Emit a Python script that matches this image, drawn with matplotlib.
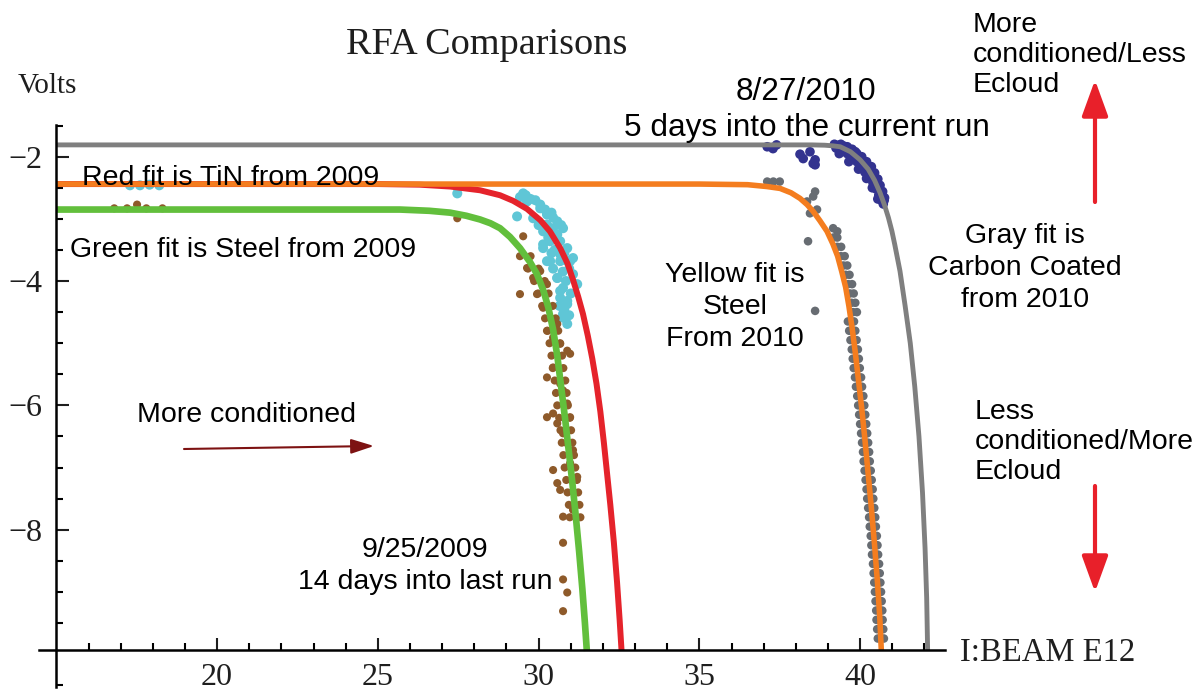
"""
RFA comparison chart: fit curves and measured points, volts vs I:BEAM E12.
"""
import matplotlib
matplotlib.use("Agg")
import matplotlib.pyplot as plt
from matplotlib.ticker import FixedLocator

W, H = 1201, 696

# ---- fit curves ----
gray_fit_x = [15.0, 30.0, 37.0, 38.5, 38.9, 39.15, 39.38, 39.7, 40.0, 40.25, 40.45,
              40.62, 40.76, 40.88, 40.99, 41.08, 41.16, 41.24, 41.4, 41.56, 41.7,
              41.83, 41.94, 42.02, 42.07, 42.1]
gray_fit_y = [-1.81, -1.81, -1.81, -1.81, -1.815, -1.825, -1.84, -1.92, -2.05, -2.2,
              -2.38, -2.58, -2.78, -2.98, -3.2, -3.42, -3.63, -3.84, -4.4, -5.0, -5.7,
              -6.5, -7.4, -8.3, -9.1, -9.95]

orange_fit_x = [15.0, 35.0, 36.5, 37.1, 37.51, 37.85, 38.13, 38.35, 38.54, 38.75, 38.97,
                39.15, 39.3, 39.43, 39.55, 39.65, 39.75, 39.85, 39.95, 40.05, 40.15,
                40.25, 40.35, 40.45, 40.54, 40.61, 40.66]
orange_fit_y = [-2.44, -2.44, -2.45, -2.48, -2.51, -2.58, -2.67, -2.77, -2.88, -3.03,
                -3.2, -3.4, -3.6, -3.85, -4.1, -4.4, -4.75, -5.15, -5.6, -6.05, -6.55,
                -7.1, -7.65, -8.25, -8.85, -9.4, -9.95]

red_fit_x = [15.0, 25.0, 26.3, 27.25, 28.18, 28.8, 29.21, 29.64, 30.05, 30.35, 30.67,
             30.9, 31.07, 31.23, 31.38, 31.53, 31.67, 31.8, 31.92, 32.03, 32.13,
             32.23, 32.34, 32.44, 32.52, 32.58]
red_fit_y = [-2.44, -2.44, -2.45, -2.48, -2.54, -2.62, -2.71, -2.84, -3.02, -3.2, -3.47,
             -3.72, -3.98, -4.25, -4.53, -4.88, -5.25, -5.65, -6.1, -6.6, -7.1,
             -7.6, -8.2, -8.85, -9.45, -9.95]

green_fit_x = [15.0, 25.69, 26.6, 27.25, 27.75, 28.18, 28.5, 28.8, 29.11, 29.42, 29.74,
               29.95, 30.14, 30.3, 30.45, 30.58, 30.7, 30.82, 30.93, 31.04, 31.15,
               31.26, 31.36, 31.44, 31.5]
green_fit_y = [-2.85, -2.85, -2.87, -2.9, -2.95, -3.01, -3.07, -3.15, -3.29, -3.47, -3.7,
               -3.89, -4.14, -4.42, -4.78, -5.2, -5.7, -6.2, -6.7, -7.2, -7.75,
               -8.35, -8.95, -9.5, -9.95]

# ---- measured points ----
# TiN 2009 (cyan)
cyan_x = [17.29, 17.6, 17.9, 18.2, 27.47, 29.52, 29.64, 30.05, 30.26, 30.58, 30.76,
          29.83, 30.14, 30.36, 30.67, 30.89, 30.14, 30.26, 30.67, 30.98, 31.07, 31.2,
          30.58, 30.67, 30.89, 30.76, 30.89, 29.33, 30.05, 30.26, 30.14, 30.58, 30.67,
          30.36, 30.89, 31.07, 30.58, 30.76, 30.67, 30.89, 30.76, 29.42, 29.9, 30.4,
          30.45, 30.0, 29.6, 29.75, 30.2, 30.45, 30.7, 30.3, 30.5, 30.8, 30.4, 30.95,
          30.75, 30.45, 30.85, 31.0, 30.8, 30.95, 30.65]
cyan_y = [-2.46, -2.46, -2.45, -2.46, -2.59, -2.59, -2.72, -2.83, -2.93, -3.04, -3.15,
          -2.99, -3.2, -3.36, -3.36, -3.47, -3.47, -3.68, -3.68, -3.68, -3.89, -4.05,
          -3.95, -4.16, -4.32, -4.53, -4.69, -2.96, -2.77, -3.09, -3.41, -3.25, -3.57,
          -3.68, -3.68, -3.63, -3.95, -4.11, -4.27, -4.37, -4.59, -2.65, -2.7, -2.9,
          -3.15, -3.1, -2.62, -2.68, -2.85, -2.98, -3.1, -3.3, -3.5, -3.55, -3.55, -3.8,
          -3.85, -3.8, -4.0, -4.2, -4.45, -4.55, -4.4]

# Steel 2009 (brown): scattered points plus the dense band either side of the fit
brown_x = [16.8, 17.2, 17.51, 17.8, 18.3, 27.47, 29.52, 29.42, 29.64, 29.83, 30.05,
           30.26, 29.95, 30.14, 30.36, 30.58, 30.26, 30.45, 30.67, 30.89, 30.98, 30.26,
           30.45, 30.67, 30.76, 30.26, 30.45, 30.58, 30.89, 30.98, 30.76, 30.89, 31.07,
           30.98, 31.2, 30.45, 30.58, 30.67, 31.07, 30.76, 30.76, 30.76, 30.89, 30.76]
brown_y = [-2.83, -2.83, -2.77, -2.83, -2.83, -2.99, -3.28, -4.21, -3.79, -3.95, -3.84,
           -4.05, -4.21, -4.43, -4.59, -4.69, -4.8, -4.91, -5.01, -5.12, -5.17, -5.55,
           -5.39, -5.65, -5.76, -6.19, -6.13, -6.29, -5.97, -6.19, -6.45, -6.61, -6.72,
           -6.93, -7.15, -7.04, -7.25, -7.36, -7.68, -7.79, -8.21, -8.8, -9.01, -9.31]
brown_band_y = [-3.6, -3.8, -4.0, -4.2, -4.4, -4.6, -4.8, -5.0, -5.2, -5.4, -5.6,
                -5.8, -6.0, -6.2, -6.4, -6.6, -6.8, -7.0, -7.2, -7.4, -7.6, -7.8]
brown_band_left = [29.42, 29.67, 29.86, 29.98, 30.11, 30.2, 30.28, 30.34, 30.4, 30.44,
                   30.5, 30.54, 30.58, 30.64, 30.68, 30.72, 30.77, 30.81, 30.86, 30.9,
                   30.94, 30.97]
brown_band_right = [29.75, 30.0, 30.19, 30.31, 30.44, 30.53, 30.61, 30.67, 30.73, 30.77,
                    30.83, 30.87, 30.91, 30.97, 31.01, 31.05, 31.1, 31.14, 31.19, 31.23,
                    31.27, 31.3]

# Steel 2010 (gray): stray points plus the band along the fit
graypt_x = [37.11, 37.3, 37.5, 38.54, 38.6, 38.66, 38.44, 39.16, 39.29, 38.38, 38.6,
            38.35]
graypt_y = [-2.4, -2.4, -2.4, -2.64, -2.56, -2.85, -2.91, -3.15, -3.2, -3.36, -4.48,
            -2.72]
gray_band_y = [-3.3, -3.45, -3.6, -3.75, -3.9, -4.05, -4.2, -4.35, -4.5, -4.65, -4.8,
               -4.95, -5.1, -5.25, -5.4, -5.55, -5.7, -5.85, -6.0, -6.15, -6.3, -6.45,
               -6.6, -6.75, -6.9, -7.05, -7.2, -7.35, -7.5, -7.65, -7.8, -7.95, -8.1,
               -8.25, -8.4, -8.55, -8.7, -8.85, -9.0, -9.15, -9.3, -9.45, -9.6, -9.75]
gray_band_left = [39.17, 39.29, 39.4, 39.48, 39.55, 39.63, 39.68, 39.73, 39.78, 39.62,
                  39.66, 39.7, 39.74, 39.77, 39.8, 39.84, 39.87, 39.91, 39.94, 39.97,
                  40.0, 40.03, 40.06, 40.09, 40.11, 40.14, 40.17, 40.2, 40.22, 40.25,
                  40.28, 40.3, 40.33, 40.35, 40.37, 40.4, 40.42, 40.44, 40.46, 40.48,
                  40.5, 40.51, 40.53, 40.55]
gray_band_right = [39.29, 39.41, 39.52, 39.6, 39.67, 39.75, 39.8, 39.85, 39.9, 39.81,
                   39.85, 39.89, 39.93, 39.96, 39.99, 40.03, 40.06, 40.1, 40.13, 40.16,
                   40.19, 40.22, 40.25, 40.28, 40.3, 40.33, 40.36, 40.39, 40.41, 40.44,
                   40.47, 40.49, 40.52, 40.54, 40.56, 40.59, 40.61, 40.63, 40.65, 40.67,
                   40.69, 40.7, 40.72, 40.74]

# Carbon coated 2010 (blue)
blue_x = [37.11, 37.29, 37.4, 38.13, 38.23, 38.54, 38.6, 38.44, 38.6,
          39.2, 39.25, 39.4, 39.45, 39.6, 39.6, 39.75, 39.75, 39.9, 39.9, 40.05, 40.05,
          40.2, 40.15, 40.35, 40.3, 40.45, 40.4, 40.55, 40.5, 40.62, 40.58, 40.7, 40.66,
          40.76, 40.72, 39.5, 39.85, 40.1, 40.3, 40.5, 40.65, 39.3, 39.5, 39.7, 39.85,
          40.0, 40.15, 40.25, 40.4, 40.45, 40.6, 40.68, 40.75, 39.35, 39.65, 39.95,
          40.2, 40.38, 40.55]
blue_y = [-1.84, -1.87, -1.81, -1.96, -2.03, -2.11, -2.13, -1.92, -2.05,
          -1.8, -1.86, -1.8, -1.88, -1.84, -1.95, -1.88, -2.0, -1.95, -2.08, -2.0, -2.15,
          -2.08, -2.25, -2.16, -2.33, -2.26, -2.42, -2.36, -2.52, -2.46, -2.62, -2.56, -2.7,
          -2.66, -2.76, -1.9, -2.02, -2.12, -2.25, -2.44, -2.6, -1.82, -1.83, -1.9, -1.92,
          -2.05, -2.12, -2.2, -2.3, -2.35, -2.5, -2.6, -2.7, -1.95, -2.08, -2.2,
          -2.35, -2.5, -2.68]

x_major = [20, 25, 30, 35, 40]
y_major = [-2, -4, -6, -8]

SANS = "Liberation Sans"
plt.rcParams["font.family"] = "Liberation Serif"


def fxy(px, py):
    """pixel position in the 1201x696 picture -> figure fraction"""
    return px / W, 1 - py / H


fig = plt.figure(figsize=(W / 100, H / 100), dpi=100)
ax = fig.add_axes([39 / W, 1 - 687 / H, 906 / W, 562 / H])
ax.set_xlim(14.46, 42.64)
ax.set_ylim(-10.53, -1.49)

# points first, fits on top
ax.scatter(graypt_x + gray_band_left + gray_band_right,
           graypt_y + gray_band_y + gray_band_y,
           s=38, color="#676c72", edgecolors="none", zorder=2)
ax.scatter(blue_x, blue_y, s=48, color="#33338f", edgecolors="none", zorder=2)
ax.scatter(cyan_x, cyan_y, s=52, color="#5fc6d6", edgecolors="none", zorder=2)
ax.scatter(brown_x + brown_band_left + brown_band_right,
           brown_y + brown_band_y + brown_band_y,
           s=34, color="#8e5a2a", edgecolors="none", zorder=2)

ax.plot(red_fit_x, red_fit_y, color="#e5232b", lw=4.3, zorder=3, solid_capstyle="butt")
ax.plot(orange_fit_x, orange_fit_y, color="#f47d1f", lw=4.0, zorder=4, solid_capstyle="butt")
ax.plot(green_fit_x, green_fit_y, color="#62bf3c", lw=4.8, zorder=3, solid_capstyle="butt")
ax.plot(gray_fit_x, gray_fit_y, color="#7f7f7f", lw=3.5, zorder=4, solid_capstyle="butt")

# Mathematica-style crossing axes
for side in ("top", "right"):
    ax.spines[side].set_visible(False)
ax.spines["left"].set_position(("data", 15.0))
ax.spines["bottom"].set_position(("data", -9.94))
for side in ("left", "bottom"):
    ax.spines[side].set_linewidth(1.8)
    ax.spines[side].set_zorder(5)

ax.xaxis.set_major_locator(FixedLocator(x_major))
ax.xaxis.set_minor_locator(FixedLocator([v for v in range(16, 43) if v % 5]))
ax.yaxis.set_major_locator(FixedLocator(y_major))
ax.yaxis.set_minor_locator(FixedLocator([-10.5, -9.5, -9, -8.5, -7.5, -7, -6.5, -5.5,
                                         -5, -4.5, -3.5, -3, -2.5, -1.5]))
ax.tick_params(axis="both", which="major", direction="in", length=9, width=1.5,
               labelsize=23, colors="#1e1e1e")
ax.tick_params(axis="both", which="minor", direction="in", length=5, width=1.5)
ax.tick_params(axis="x", which="major", pad=9)
ax.tick_params(axis="y", which="major", pad=10)

# axis titles
fig.text(*fxy(487, 45), "RFA Comparisons", ha="center", va="center", fontsize=27.5,
         color="#1e1e1e")
fig.text(*fxy(18, 86), "Volts", ha="left", va="center", fontsize=21, color="#1e1e1e")
fig.text(*fxy(960, 653), "I:BEAM E12", ha="left", va="center", fontsize=23.5,
         color="#1e1e1e")

# annotations
fig.text(*fxy(806, 92), "8/27/2010", ha="center", va="center", fontsize=22.7, family=SANS)
fig.text(*fxy(807, 128), "5 days into the current run", ha="center", va="center",
         fontsize=22.7, family=SANS)
fig.text(*fxy(82, 178), "Red fit is TiN from 2009", ha="left", va="center",
         fontsize=20.5, family=SANS, zorder=6)
fig.text(*fxy(70, 250), "Green fit is Steel from 2009", ha="left", va="center",
         fontsize=20.5, family=SANS)
fig.text(*fxy(735, 307), "Yellow fit is\nSteel\nFrom 2010", ha="center", va="center",
         fontsize=20.5, family=SANS, linespacing=1.3)
fig.text(*fxy(1025, 268), "Gray fit is\nCarbon Coated\nfrom 2010", ha="center",
         va="center", fontsize=20.5, family=SANS, linespacing=1.3)
fig.text(*fxy(973, 55), "More\nconditioned/Less\nEcloud", ha="left", va="center",
         fontsize=20.5, family=SANS, linespacing=1.22)
fig.text(*fxy(975, 442), "Less\nconditioned/More\nEcloud", ha="left", va="center",
         fontsize=20.5, family=SANS, linespacing=1.22)
fig.text(*fxy(137, 415), "More conditioned", ha="left", va="center", fontsize=20.5,
         family=SANS)
fig.text(*fxy(425, 566), "9/25/2009\n14 days into last run", ha="center", va="center",
         fontsize=20.5, family=SANS, linespacing=1.3)

# arrows
red = "#e8202a"
ax.annotate("", xy=fxy(1095, 80), xytext=fxy(1095, 202), xycoords="figure fraction",
            textcoords="figure fraction",
            arrowprops=dict(arrowstyle="-|>,head_length=1.1,head_width=0.4", color=red,
                            lw=3, mutation_scale=20, shrinkA=0, shrinkB=0))
ax.annotate("", xy=fxy(1095, 592), xytext=fxy(1095, 486), xycoords="figure fraction",
            textcoords="figure fraction",
            arrowprops=dict(arrowstyle="-|>,head_length=1.1,head_width=0.4", color=red,
                            lw=3, mutation_scale=20, shrinkA=0, shrinkB=0))
ax.annotate("", xy=fxy(374, 446), xytext=fxy(184, 449), xycoords="figure fraction",
            textcoords="figure fraction",
            arrowprops=dict(arrowstyle="-|>,head_length=1.0,head_width=0.32",
                            color="#7d1212", lw=1.5, mutation_scale=14, shrinkA=0,
                            shrinkB=0))

fig.savefig("out.png", dpi=100)
